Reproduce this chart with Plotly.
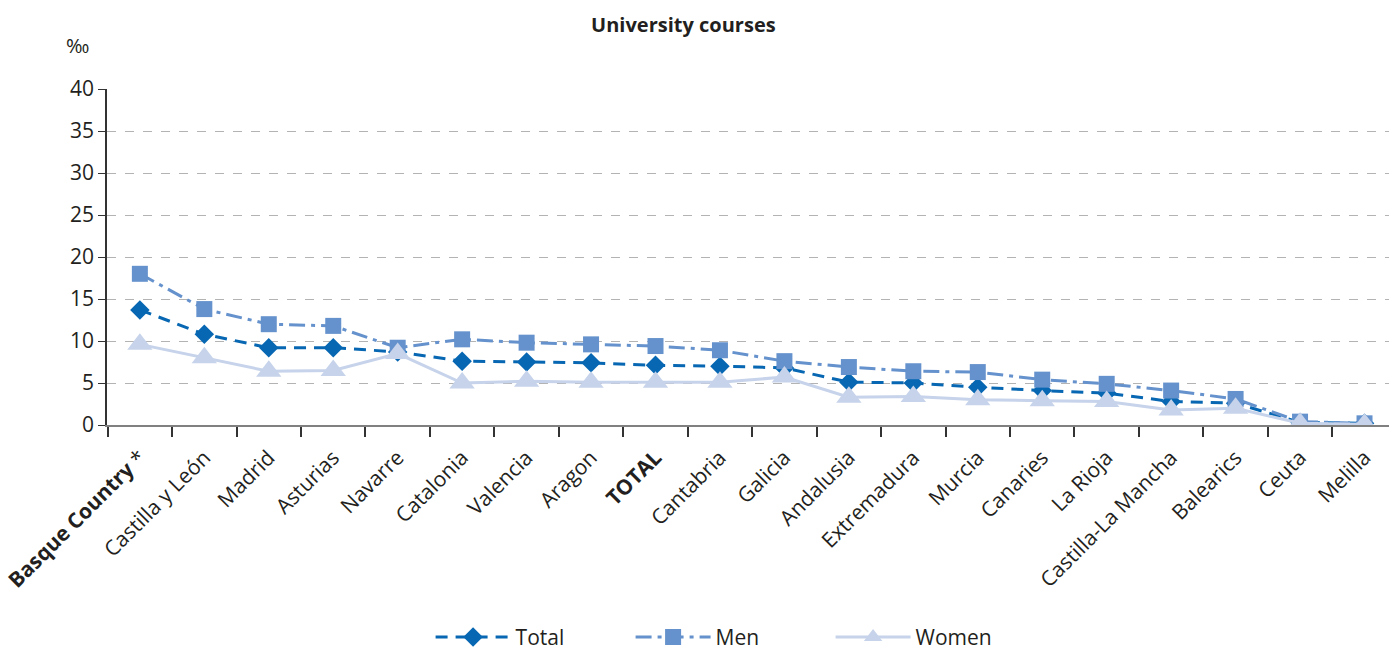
import plotly.graph_objects as go

# Regional rates for university courses (per thousand)
regions = [
    "<b>Basque Country</b> *", "Castilla y León", "Madrid", "Asturias", "Navarre",
    "Catalonia", "Valencia", "Aragon", "<b>TOTAL</b>", "Cantabria", "Galicia",
    "Andalusia", "Extremadura", "Murcia", "Canaries", "La Rioja",
    "Castilla-La Mancha", "Balearics", "Ceuta", "Melilla",
]
total = [13.7, 10.8, 9.2, 9.2, 8.7, 7.6, 7.5, 7.4, 7.1, 7.0, 6.8,
         5.1, 5.0, 4.5, 4.1, 3.8, 2.8, 2.6, 0.3, 0.2]
men = [18.0, 13.8, 12.0, 11.8, 9.2, 10.2, 9.8, 9.6, 9.4, 8.9, 7.6,
       6.9, 6.4, 6.3, 5.4, 4.9, 4.1, 3.1, 0.4, 0.2]
women = [9.6, 8.0, 6.4, 6.5, 8.5, 5.0, 5.2, 5.1, 5.1, 5.1, 5.7,
         3.3, 3.4, 3.0, 2.9, 2.8, 1.8, 2.0, 0.2, 0.1]
y_ticks = [0, 5, 10, 15, 20, 25, 30, 35, 40]

FONT = "Open Sans"
TEXT = "#231f20"

fig = go.Figure()

fig.add_trace(go.Scatter(
    x=regions, y=total, name="Total", mode="lines+markers",
    line=dict(color="#0767b2", width=3, dash="12px,8px"),
    marker=dict(symbol="diamond", size=15, color="#0767b2"),
))
fig.add_trace(go.Scatter(
    x=regions, y=men, name="Men", mode="lines+markers",
    line=dict(color="#6592cc", width=3, dash="16px,6px,4px,6px"),
    marker=dict(symbol="square", size=16, color="#6592cc"),
))
fig.add_trace(go.Scatter(
    x=regions, y=women, name="Women", mode="lines+markers",
    line=dict(color="#c6d3ea", width=3),
    marker=dict(symbol="triangle-up", size=22, color="#c6d3ea"),
))

fig.update_layout(
    width=1389, height=657,
    margin=dict(l=107, r=0, t=89, b=232),
    paper_bgcolor="white", plot_bgcolor="white",
    font=dict(family=FONT, color=TEXT, size=20),
    title=dict(text="<b>University courses</b>", x=0.492, xanchor="center",
               y=0.962, yanchor="middle", font=dict(size=20, color=TEXT)),
    showlegend=True,
    legend=dict(orientation="h", x=0.31, xanchor="left", y=0.03, yanchor="middle",
                xref="container", yref="container",
                itemwidth=75, entrywidth=110, font=dict(size=21, color=TEXT),
                itemclick=False),
    annotations=[dict(text="‰", x=(77 - 107) / 1282, y=(425 - 45) / 336,
                      xref="paper", yref="paper", xanchor="center", yanchor="middle",
                      showarrow=False, font=dict(size=20, color=TEXT))],
)

fig.update_xaxes(
    type="category", range=[-0.51, 19.38],
    showline=True, linecolor="#808080", linewidth=2,
    ticks="outside", tickson="boundaries", ticklen=10, tickcolor="#333", tickwidth=1.5,
    tickangle=-45, tickfont=dict(size=21, color=TEXT), ticklabelstandoff=10,
    showgrid=False, zeroline=False,
)
fig.update_yaxes(
    range=[0, 40], tickvals=y_ticks,
    showline=True, linecolor="#333", linewidth=1.5,
    ticks="outside", ticklen=7, tickcolor="#333",
    tickfont=dict(size=21, color=TEXT),
    showgrid=True, gridcolor="#b3b3b3", griddash="dash", gridwidth=1,
    zeroline=False,
)

fig.write_html("out.html")
